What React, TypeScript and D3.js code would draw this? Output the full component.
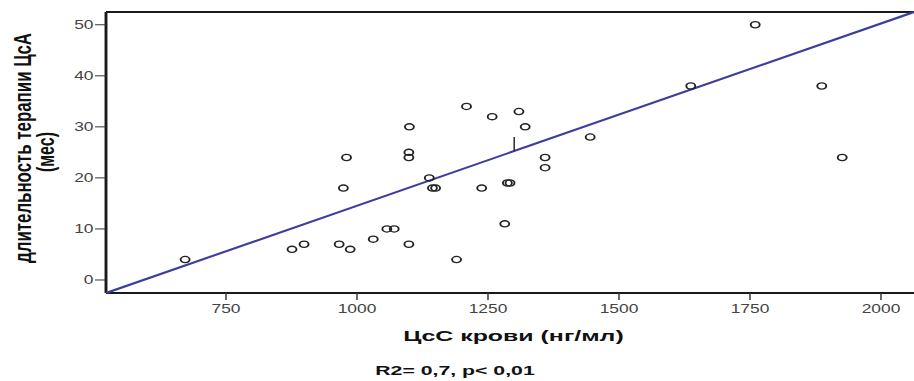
import React from 'react';
import * as d3 from 'd3';

// CsA blood level (ng/ml) vs therapy duration (months)
const ccsValues = [672, 876, 899, 966, 987, 974, 980, 1031, 1057, 1071, 1099, 1099, 1099, 1100, 1138, 1144, 1150, 1190, 1209, 1238, 1258, 1282, 1287, 1292, 1309, 1321, 1359, 1359, 1445, 1637, 1760, 1887, 1926];
const therapyMonths = [4, 6, 7, 7, 6, 18, 24, 8, 10, 10, 7, 24, 25, 30, 20, 18, 18, 4, 34, 18, 32, 11, 19, 19, 33, 30, 24, 22, 28, 38, 50, 38, 24];
const xTicks = [750, 1000, 1250, 1500, 1750, 2000];
const yTicks = [0, 10, 20, 30, 40, 50];
const fitIntercept = -21.15;
const fitSlope = 0.0357;
const fitMarkX = 1300;
const xDomain = [521, 2063];
const yDomain = [-2.55, 52.5];

const W = 914;
const H = 381;
const K = 1.45; // horizontal stretch of the original picture

export default function App() {
  const x = d3.scaleLinear().domain(xDomain).range([106 / K, 914 / K]);
  const y = d3.scaleLinear().domain(yDomain).range([293, 12]);
  const fit = (v: number) => fitIntercept + fitSlope * v;
  const fitPath = d3.line<number>().x(d => x(d)).y(d => y(fit(d)))(xDomain) || '';
  const left = 106 / K;
  const right = 930 / K;
  const font = 'Liberation Sans, Arial, Helvetica, sans-serif';

  return (
    <svg width={W} height={H} style={{ position: 'absolute', left: 0, top: 0, background: '#fff' }}>
      <rect x={0} y={0} width={W} height={H} fill="#fff" />
      <g transform={`scale(${K},1)`} fontFamily={font}>
        {/* frame */}
        <line x1={left} x2={left} y1={12} y2={293} stroke="#1a1a1a" strokeWidth={2} />
        <line x1={left} x2={right} y1={12} y2={12} stroke="#1a1a1a" strokeWidth={2} />
        <line x1={left} x2={right} y1={293} y2={293} stroke="#1a1a1a" strokeWidth={2} />

        {/* y ticks */}
        {yTicks.map(t => (
          <g key={'y' + t}>
            <line x1={95 / K} x2={left} y1={y(t)} y2={y(t)} stroke="#333" strokeWidth={1} />
            <text x={93.5 / K} y={y(t) + 4.3} textAnchor="end" fontSize={12} fill="#444">{t}</text>
          </g>
        ))}

        {/* x ticks */}
        {xTicks.map(t => (
          <g key={'x' + t}>
            <line x1={x(t)} x2={x(t)} y1={293} y2={300} stroke="#333" strokeWidth={1} />
            <text x={x(t)} y={313} textAnchor="middle" fontSize={12} fill="#444">{t}</text>
          </g>
        ))}

        {/* regression line */}
        <path d={fitPath} fill="none" stroke="#3d3d9e" strokeWidth={2} />
        <line x1={x(fitMarkX)} x2={x(fitMarkX)} y1={y(fit(fitMarkX))} y2={y(fit(fitMarkX) + 2.75)} stroke="#222" strokeWidth={1} />

        {/* points */}
        {ccsValues.map((v, i) => (
          <circle key={i} cx={x(v)} cy={y(therapyMonths[i])} r={3.1} fill="none" stroke="#222" strokeWidth={1.3} />
        ))}

        {/* y title */}
        <text transform={`translate(${31 / K},148) rotate(-90)`} textAnchor="middle" fontSize={16} fontWeight="bold" fill="#111" textLength={230} lengthAdjust="spacingAndGlyphs">длительность терапии ЦсА</text>
        <text transform={`translate(${54 / K},152) rotate(-90)`} textAnchor="middle" fontSize={16} fontWeight="bold" fill="#111">(мес)</text>

        {/* x title */}
        <text x={513.5 / K} y={341} textAnchor="middle" fontSize={15} fontWeight="bold" fill="#111" textLength={152} lengthAdjust="spacingAndGlyphs">ЦсС крови (нг/мл)</text>
        <text x={455 / K} y={375} textAnchor="middle" fontSize={13} fontWeight="bold" fill="#111" textLength={110} lengthAdjust="spacingAndGlyphs">R2= 0,7, p&lt; 0,01</text>
      </g>
    </svg>
  );
}
